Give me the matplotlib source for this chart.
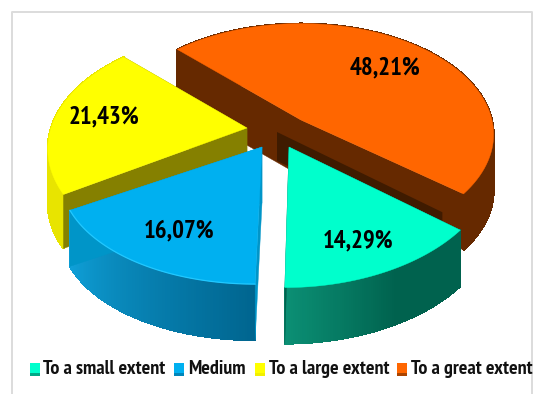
import numpy as np
import matplotlib
matplotlib.use("Agg")
import matplotlib.pyplot as plt
from matplotlib.colors import to_rgb
from matplotlib.patches import Polygon, Rectangle

plt.rcParams['font.family'] = ['PT Sans Narrow', 'Carlito', 'Lato', 'DejaVu Sans']

labels = ["To a small extent", "Medium", "To a large extent", "To a great extent"]
values = [14.29, 16.07, 21.43, 48.21]
value_text = ["14,29%", "16,07%", "21,43%", "48,21%"]

top_colors = ["#00FFCC", "#00B0F0", "#FFFF00", "#FF6600"]
wall_left = ["#0B8F74", "#0FA0D8", "#E8E400", "#662900"]
wall_right = ["#00624E", "#00658F", "#E8E400", "#662900"]
cut_colors = ["#00624E", "#0095C8", "#858000", "#662900"]

# slice layout in pixels: apex x, apex y, radius x, radius y, shear, perspective
geom = [(289, 147, 205, 123, -0.03, 0.125),
        (262, 147, 194, 103.5, -0.05, 0.245),
        (247, 128, 196, 113, 0.0, 0.18),
        (301, 120, 191, 109, 0.0, 0.13)]
label_pos = [(358, 241), (179.5, 231), (104, 117), (385, 68)]
legend_sq = [30, 174, 255, 397]
legend_txt = [43, 188, 269, 411]
depth = [56, 56, 54, 56]


def rim(i, t):
    ax_, ay, rx, ry, sh, k = geom[i]
    v = np.cos(t)
    s = 1 / (1 - k * v)
    return ax_ + rx * np.sin(t) * s + sh * ry * v * s, ay + ry * v * s


fig = plt.figure(figsize=(5.37, 3.94), dpi=100)
ax = fig.add_axes([0, 0, 1, 1])
ax.set_xlim(0, 537)
ax.set_ylim(394, 0)
ax.axis("off")

# frame
ax.plot([12, 12, 532, 532], [394, 12, 12, 394], color="#DCDCDC", lw=1.4, zorder=1)

# angle 0 is straight down, slices go clockwise on screen and the first one ends at 0
shares = np.array(values) / sum(values) * 360
edges = np.radians(shares[0] - np.concatenate([[0], np.cumsum(shares)]))


def draw_slice(i, z):
    t = np.linspace(edges[i], edges[i + 1], 90)
    x, y = rim(i, t)
    d = depth[i]
    apex = geom[i][:2]
    c0, c1 = np.array(to_rgb(wall_right[i])), np.array(to_rgb(wall_left[i]))
    # outer wall, small quads for the gradient
    for j in range(len(t) - 1):
        f = j / (len(t) - 2)
        if i == 0:
            f = max(0, (f - 0.45) / 0.55)
        col = c0 * (1 - f) + c1 * f
        ax.add_patch(Polygon([(x[j], y[j]), (x[j + 1], y[j + 1]), (x[j + 1], y[j + 1] + d), (x[j], y[j] + d)],
                             fc=col, ec=col, lw=0.8, antialiased=False, zorder=z))
    # cut faces
    for n in (0, -1):
        ax.add_patch(Polygon([apex, (x[n], y[n]), (x[n], y[n] + d), (apex[0], apex[1] + d)],
                             fc=cut_colors[i], ec=cut_colors[i], lw=0.3, zorder=z + 0.1))
    ax.add_patch(Polygon(np.column_stack([np.r_[apex[0], x], np.r_[apex[1], y]]),
                         fc=top_colors[i], ec=top_colors[i], lw=0.3, zorder=z + 0.2))


# back to front
draw_slice(3, 2)

# darker band on the orange cut, behind the teal slice
tx, ty = rim(0, edges[0])
bx = geom[0][0] - 12
by = geom[0][1] - 15
ex = bx + 0.965 * (tx - geom[0][0])
ey = by + 0.965 * (ty - geom[0][1])
ax.add_patch(Polygon([(bx, by), (ex, ey), (ex, ey + 25), (bx, by + 29)], fc="#3F1B00", ec="none", zorder=2.5))

draw_slice(2, 3)
draw_slice(1, 4)
draw_slice(0, 5)

# blue front rim highlight
x, y = rim(1, np.linspace(edges[1], edges[2], 60))
ax.plot(x, y, color="#22C8FF", lw=0.9, zorder=4.5)

for i, txt in enumerate(value_text):
    ax.text(label_pos[i][0], label_pos[i][1], txt, ha="center", va="center",
            fontsize=17.8, fontweight="bold", color="black", zorder=10)

for i, lab in enumerate(labels):
    ax.add_patch(Rectangle((legend_sq[i], 363), 10, 13, fc=top_colors[i], ec="none", zorder=10))
    ax.add_patch(Rectangle((legend_sq[i], 373), 10, 3, fc=wall_right[i], ec="none", alpha=0.55, zorder=11))
    ax.text(legend_txt[i], 369, lab, ha="left", va="center", fontsize=14.5, fontweight="bold",
            color="#111111", zorder=10)

fig.savefig("out.png", dpi=100)
